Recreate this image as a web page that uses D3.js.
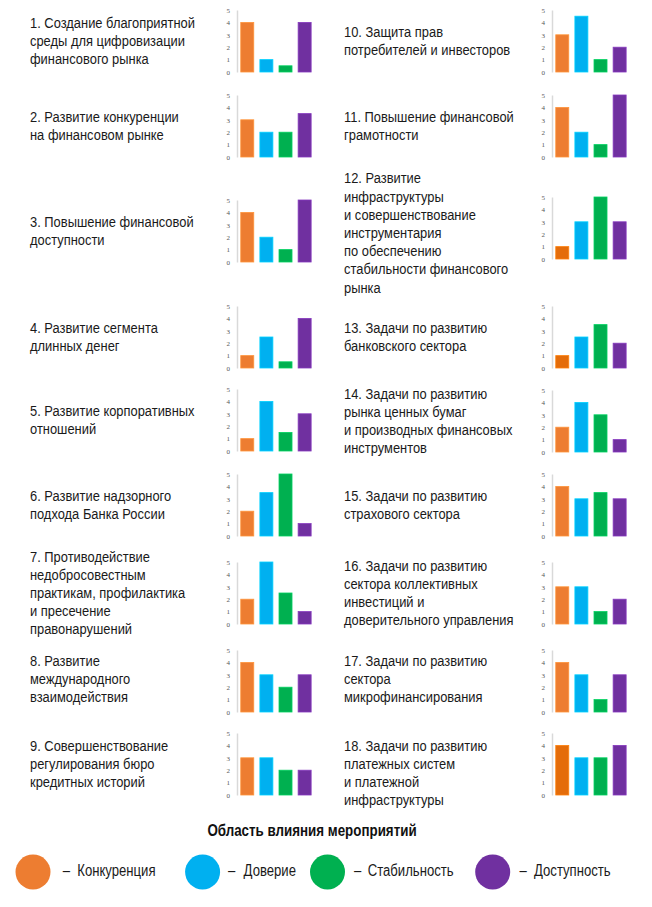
<!DOCTYPE html>
<html><head><meta charset="utf-8">
<script src="https://cdn.jsdelivr.net/npm/d3@7/dist/d3.min.js"></script>
<style>
html,body{margin:0;padding:0;background:#fff;}
svg{display:block;}
</style>
</head><body>
<svg id="chart" width="652" height="907"></svg>
<script>
// ---------- DATA ----------
const series = ["Конкуренция", "Доверие", "Стабильность", "Доступность"];
const colors = ["#ED7D31", "#00B0F0", "#00B050", "#7030A0"];
const ticks = [0, 1, 2, 3, 4, 5];
const titleText = "Область влияния мероприятий";

const labels = [
  ["1. Создание благоприятной", "среды для цифровизации", "финансового рынка"],
  ["2. Развитие конкуренции", "на финансовом рынке"],
  ["3. Повышение финансовой", "доступности"],
  ["4. Развитие сегмента", "длинных денег"],
  ["5. Развитие корпоративных", "отношений"],
  ["6. Развитие надзорного", "подхода Банка России"],
  ["7. Противодействие", "недобросовестным", "практикам, профилактика", "и пресечение", "правонарушений"],
  ["8. Развитие", "международного", "взаимодействия"],
  ["9. Совершенствование", "регулирования бюро", "кредитных историй"],
  ["10. Защита прав", "потребителей и инвесторов"],
  ["11. Повышение финансовой", "грамотности"],
  ["12. Развитие", "инфраструктуры", "и совершенствование", "инструментария", "по обеспечению", "стабильности финансового", "рынка"],
  ["13. Задачи по развитию", "банковского сектора"],
  ["14. Задачи по развитию", "рынка ценных бумаг", "и производных финансовых", "инструментов"],
  ["15. Задачи по развитию", "страхового сектора"],
  ["16. Задачи по развитию", "сектора коллективных", "инвестиций и", "доверительного управления"],
  ["17. Задачи по развитию", "сектора", "микрофинансирования"],
  ["18. Задачи по развитию", "платежных систем", "и платежной", "инфраструктуры"]
];

// values per task: [Конкуренция, Доверие, Стабильность, Доступность]
const values = [
  [4, 1, 0.5, 4],
  [3, 2, 2, 3.5],
  [4, 2, 1, 5],
  [1, 2.5, 0.5, 4],
  [1, 4, 1.5, 3],
  [2, 3.5, 5, 1],
  [2, 5, 2.5, 1],
  [4, 3, 2, 3],
  [3, 3, 2, 2],
  [3, 4.5, 1, 2],
  [4, 2, 1, 5],
  [1, 3, 5, 3],
  [1, 2.5, 3.5, 2],
  [2, 4, 3, 1],
  [4, 3, 3.5, 3],
  [3, 3, 1, 2],
  [4, 3, 1, 3],
  [4, 3, 3, 4]
];

// ---------- LAYOUT ----------
const W = 652, H = 907;
const baseLeft  = [72, 157, 262, 368, 451, 536, 624, 712, 795];
const baseRight = [72, 157, 259, 368, 452, 536, 624, 712, 795];
const textShift = [0,0,0,0,0,0,0,-2,0, 0,0,5,0,0,0,0,-2,9];
const darkOrange = new Set([11, 12, 17]);
const chartH = 62;
const lineH = 18.2;
const labelFont = "'Liberation Sans', Arial, sans-serif";

const svg = d3.select("#chart");
svg.append("rect").attr("width", W).attr("height", H).attr("fill", "#fff");

// emulate a narrow face by horizontal scaling
function narrowText(parent, x, size, sx, weight, anchor) {
  return parent.append("g")
    .attr("transform", `translate(${x},0) scale(${sx},1)`)
    .append("text")
    .attr("font-family", labelFont)
    .attr("font-size", size)
    .attr("font-weight", weight || "normal")
    .attr("text-anchor", anchor || "start")
    .attr("fill", "#1a1a1a");
}

values.forEach((vals, i) => {
  const col = i < 9 ? 0 : 1;
  const row = i % 9;
  const base = col === 0 ? baseLeft[row] : baseRight[row];
  const axisX = col === 0 ? 237 : 552;
  const textX = col === 0 ? 30 : 344;

  const y = d3.scaleLinear().domain([0, 5]).range([base, base - chartH]);
  const x = d3.scaleBand().domain(series)
    .range([axisX + 0.7, axisX + 0.7 + 76.5])
    .paddingInner(0.32).paddingOuter(0.16);

  const g = svg.append("g");

  const axis = d3.axisLeft(y).tickValues(ticks).tickSize(0).tickPadding(7).tickFormat(d3.format("d"));
  const ag = g.append("g").attr("transform", `translate(${axisX},0)`).call(axis);
  ag.select(".domain").attr("stroke", "#d9d9d9").attr("stroke-width", 1.5);
  ag.selectAll("text").attr("fill", "#595959").attr("font-size", 7)
    .attr("font-family", "'Liberation Serif','DejaVu Serif',serif");

  g.selectAll("rect.bar").data(vals).enter().append("rect")
    .attr("class", "bar")
    .attr("x", (d, k) => x(series[k]))
    .attr("width", x.bandwidth())
    .attr("y", d => y(d))
    .attr("height", d => y(0) - y(d))
    .attr("fill", (d, k) => (k === 0 && darkOrange.has(i)) ? "#E46C0A" : colors[k])
    .attr("stroke", (d, k) => d3.color((k === 0 && darkOrange.has(i)) ? "#E46C0A" : colors[k]).brighter(0.5))
    .attr("stroke-width", 0.8);

  const lines = labels[i];
  const center = base - chartH / 2 + textShift[i];
  const firstY = center - (lines.length - 1) * lineH / 2;
  const t = narrowText(g, textX, 14.5, 0.89);
  lines.forEach((ln, j) => {
    t.append("tspan").attr("x", 0).attr("y", firstY + j * lineH).attr("dy", "0.35em").text(ln);
  });
});

// ---------- LEGEND ----------
narrowText(svg, 312, 16.3, 0.82, "bold", "middle")
  .attr("fill", "#111")
  .attr("y", 830).attr("dy", "0.35em")
  .text(titleText);

const legX = [33, 202.6, 327.5, 492.7];
const dashX = [62.7, 228, 354, 519.4];
const legTextX = [77.3, 243.6, 367.7, 534];
const lg = svg.append("g");
series.forEach((s, k) => {
  lg.append("circle").attr("cx", legX[k]).attr("cy", 872).attr("r", 17.5).attr("fill", colors[k]);
  narrowText(lg, dashX[k], 16, 0.82).attr("y", 870).attr("dy", "0.35em").text("–");
  narrowText(lg, legTextX[k], 16, 0.82).attr("y", 870).attr("dy", "0.35em").text(s);
});
</script>
</body></html>
